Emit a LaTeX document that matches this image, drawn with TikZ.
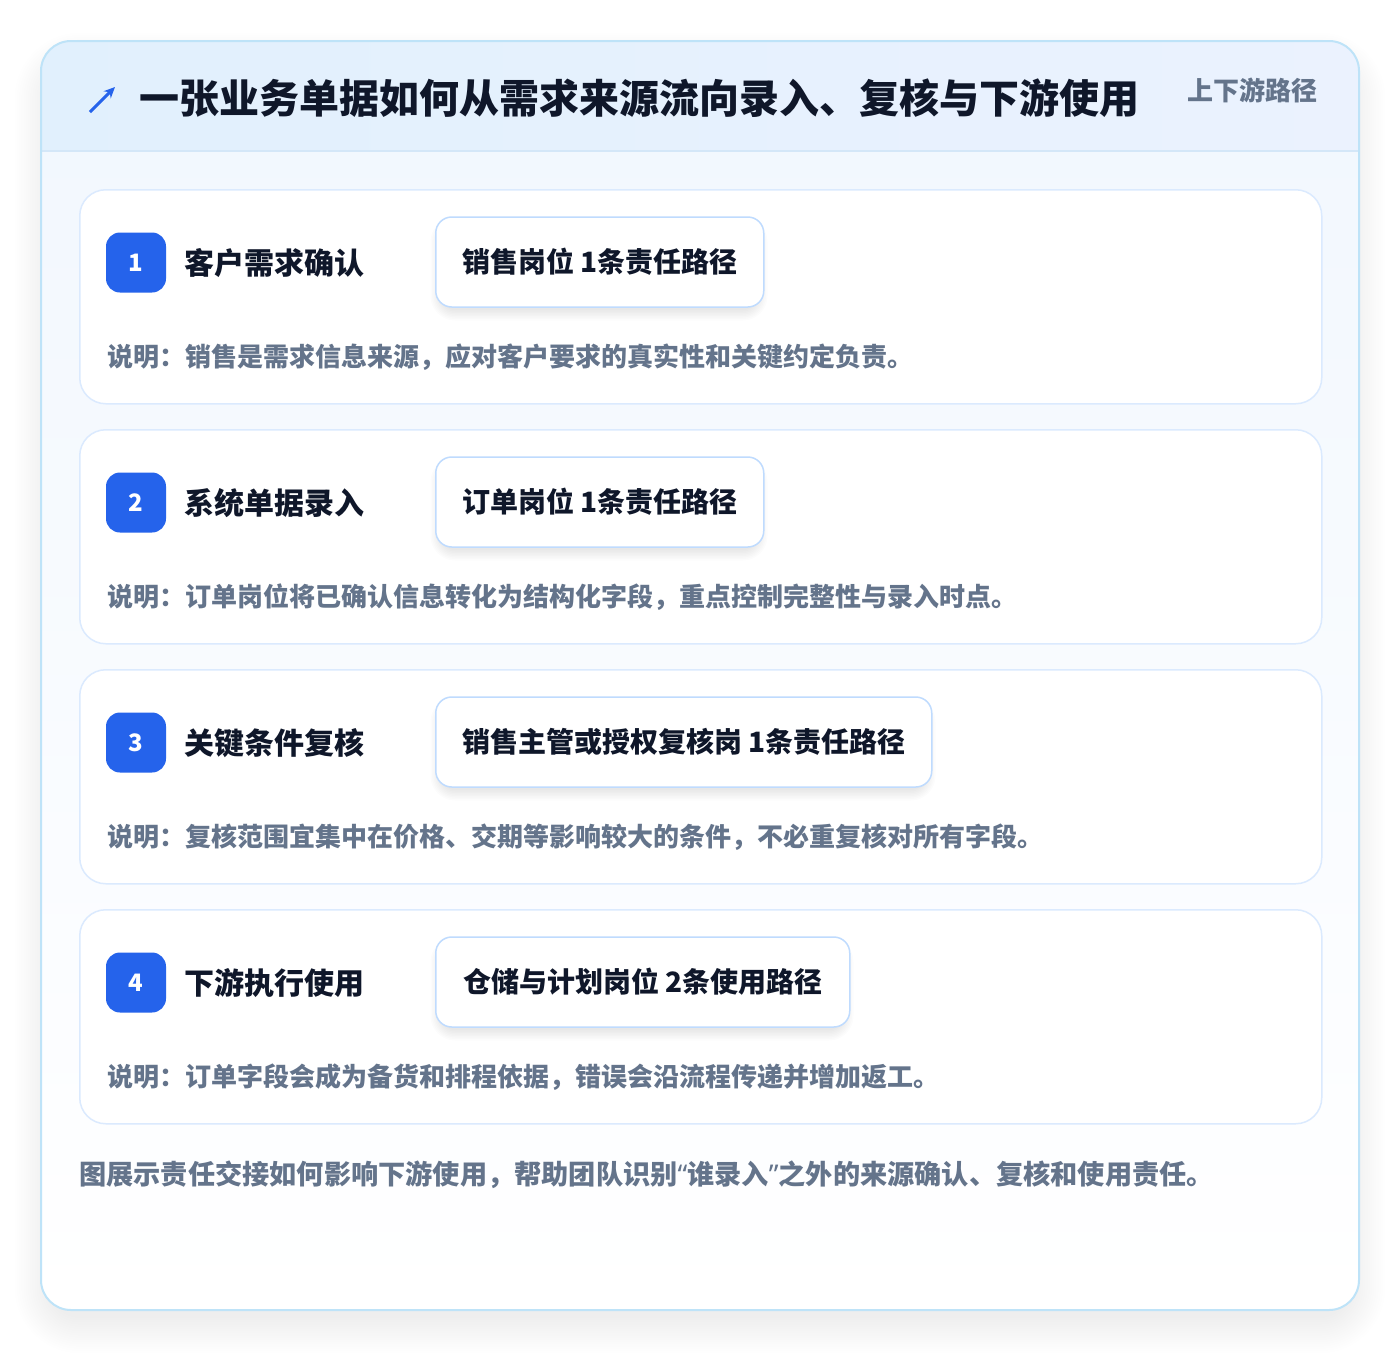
\documentclass[tikz,border=0pt]{standalone}
\usepackage{fontspec}
\setmainfont{Noto Sans CJK SC}
\newfontfamily\latinq{Noto Sans}
\usetikzlibrary{arrows.meta}
\definecolor{ink}{HTML}{0F172A}
\definecolor{muted}{HTML}{64748B}
\definecolor{brand}{HTML}{2563EB}
\definecolor{outerb}{HTML}{BEE3F8}
\definecolor{cardb}{HTML}{DBEAFE}
\definecolor{pillb}{HTML}{BFDBFE}
\definecolor{headA}{HTML}{E1F0FD}
\definecolor{headB}{HTML}{EBF2FE}
\definecolor{headline}{HTML}{D4E7F8}
\definecolor{bodyA}{HTML}{F1F7FE}
% soft shadow: x1 y1 x2 y2 radius yshift steps step opacity
\newcommand{\softshadow}[9]{%
  \foreach \k in {0,...,#7}{%
    \fill[black, opacity=#9, rounded corners={(#5+\k*#8)*1pt}]
      ({#1-\k*#8},{#2-\k*#8+#6}) rectangle ({#3+\k*#8},{#4+\k*#8+#6});
  }}
\tikzset{
  card/.style={draw=cardb, line width=1.5pt, fill=white, rounded corners=26pt,
    minimum width=1242pt, minimum height=214pt, anchor=north west, inner sep=0pt},
  badge/.style={fill=brand, text=white, rounded corners=14pt, minimum size=60pt,
    inner sep=0pt, font=\fontsize{24}{28}\selectfont\bfseries},
  steptitle/.style={anchor=west, inner sep=0pt, text=ink,
    font=\fontsize{30}{36}\selectfont\bfseries},
  pill/.style={draw=pillb, line width=1.5pt, fill=white, rounded corners=16pt,
    minimum height=90pt, anchor=west, inner sep=0pt, text=ink,
    font=\fontsize{28}{34}\selectfont\bfseries},
  desc/.style={anchor=west, inner sep=0pt, text=muted,
    font=\fontsize{26}{30}\selectfont\bfseries},
}
\begin{document}
\begin{tikzpicture}[x=1pt,y=-1pt]
\useasboundingbox (0,0) rectangle (1400,1352);
\fill[white] (0,0) rectangle (1400,1352);
% outer card shadow
\softshadow{50}{50}{1350}{1300}{30}{18}{16}{2.2}{0.0055}
% outer card
\shade[top color=bodyA, bottom color=white, rounded corners=30pt] (41,41) rectangle (1359,1310);
\begin{scope}
  \clip[rounded corners=30pt] (41,41) rectangle (1359,1310);
  \shade[left color=headA, right color=headB] (41,41) rectangle (1359,151);
  \draw[headline, line width=1.5pt] (41,151) -- (1359,151);
\end{scope}
\draw[outerb, line width=2pt, rounded corners=30pt] (41,41) rectangle (1359,1310);
% header
\coordinate (arrTail) at (90,112);
\coordinate (arrHead) at (115,87);
\draw[brand, line width=3pt, -{Stealth[length=11pt,width=10pt]}] (arrTail) -- (arrHead);
\node[anchor=west, inner sep=0pt, text=ink, font=\fontsize{40}{46}\selectfont\bfseries] (title) at (139,98)
  {一张业务单据如何从需求来源流向录入、复核与下游使用};
\node[anchor=west, inner sep=0pt, text=muted, font=\fontsize{26}{30}\selectfont\bfseries] (tag) at (1187,90) {上下游路径};
% step 1
\node[card] (card1) at (79,189) {};
\node[badge] (badge1) at (136,262.5) {1};
\node[steptitle] (title1) at (184,263) {客户需求确认};
\softshadow{441}{221}{757}{303}{14}{7}{7}{1.5}{0.011}
\node[pill, minimum width=328pt] (pill1) at (435,262) {销售岗位 1条责任路径};
\node[desc] (desc1) at (107,357) {说明：销售是需求信息来源，应对客户要求的真实性和关键约定负责。};
% step 2
\node[card] (card2) at (79,429) {};
\node[badge] (badge2) at (136,502.5) {2};
\node[steptitle] (title2) at (184,503) {系统单据录入};
\softshadow{441}{461}{757}{543}{14}{7}{7}{1.5}{0.011}
\node[pill, minimum width=328pt] (pill2) at (435,502) {订单岗位 1条责任路径};
\node[desc] (desc2) at (107,597) {说明：订单岗位将已确认信息转化为结构化字段，重点控制完整性与录入时点。};
% step 3
\node[card] (card3) at (79,669) {};
\node[badge] (badge3) at (136,742.5) {3};
\node[steptitle] (title3) at (184,743) {关键条件复核};
\softshadow{441}{701}{925}{783}{14}{7}{7}{1.5}{0.011}
\node[pill, minimum width=496pt] (pill3) at (435,742) {销售主管或授权复核岗 1条责任路径};
\node[desc] (desc3) at (107,837) {说明：复核范围宜集中在价格、交期等影响较大的条件，不必重复核对所有字段。};
% step 4
\node[card] (card4) at (79,909) {};
\node[badge] (badge4) at (136,982.5) {4};
\node[steptitle] (title4) at (184,983) {下游执行使用};
\softshadow{441}{941}{843}{1023}{14}{7}{7}{1.5}{0.011}
\node[pill, minimum width=414pt] (pill4) at (435,982) {仓储与计划岗位 2条使用路径};
\node[desc] (desc4) at (107,1077) {说明：订单字段会成为备货和排程依据，错误会沿流程传递并增加返工。};
% footer
\node[anchor=west, inner sep=0pt, text=muted, font=\fontsize{27.2}{31}\selectfont\bfseries] (footer) at (79,1175)
  {图展示责任交接如何影响下游使用，帮助团队识别{\latinq\bfseries “}谁录入{\latinq\bfseries ”}之外的来源确认、复核和使用责任。};
\end{tikzpicture}
\end{document}
